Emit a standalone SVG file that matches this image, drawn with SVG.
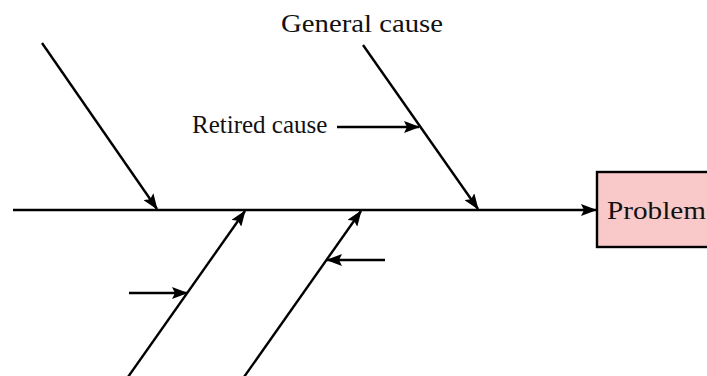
<svg xmlns="http://www.w3.org/2000/svg" width="707" height="376" viewBox="0 0 707 376">
<style>
  .ln { stroke: #000; stroke-width: 2.4; fill: none; }
  .lbl { font-family: 'Liberation Serif', 'Times New Roman', serif; font-size: 25px; fill: #111; }
</style>
<defs>
  <marker id="ah" viewBox="0 0 16 12" refX="15" refY="6" markerWidth="16" markerHeight="12" markerUnits="userSpaceOnUse" orient="auto">
    <path d="M0,0 L16,6 L0,12 L3,6 Z" fill="#000"/>
  </marker>
</defs>
<rect width="707" height="376" fill="#fff"/>
<g id="problem">
  <rect x="597" y="172" width="120" height="75" fill="#f9c9c9" stroke="#000" stroke-width="2.4"/>
  <text class="lbl" x="607" y="219" textLength="99" lengthAdjust="spacingAndGlyphs">Problem</text>
</g>
<g id="general-cause-label">
  <text class="lbl" x="281" y="32" textLength="162" lengthAdjust="spacingAndGlyphs">General cause</text>
</g>
<g id="retired-cause-label">
  <text class="lbl" x="192" y="133">Retired cause</text>
</g>
<g id="connectors">
  <line class="ln" x1="13" y1="210" x2="596" y2="210" marker-end="url(#ah)"/>
  <line class="ln" x1="42" y1="43" x2="157" y2="209" marker-end="url(#ah)"/>
  <line class="ln" x1="363" y1="45" x2="478" y2="209" marker-end="url(#ah)"/>
  <line class="ln" x1="337" y1="127" x2="419" y2="127" marker-end="url(#ah)"/>
  <line class="ln" x1="128" y1="377" x2="245" y2="211" marker-end="url(#ah)"/>
  <line class="ln" x1="244" y1="377" x2="361" y2="211" marker-end="url(#ah)"/>
  <line class="ln" x1="129" y1="293" x2="187" y2="293" marker-end="url(#ah)"/>
  <line class="ln" x1="385" y1="260" x2="327" y2="260" marker-end="url(#ah)"/>
</g>
</svg>
